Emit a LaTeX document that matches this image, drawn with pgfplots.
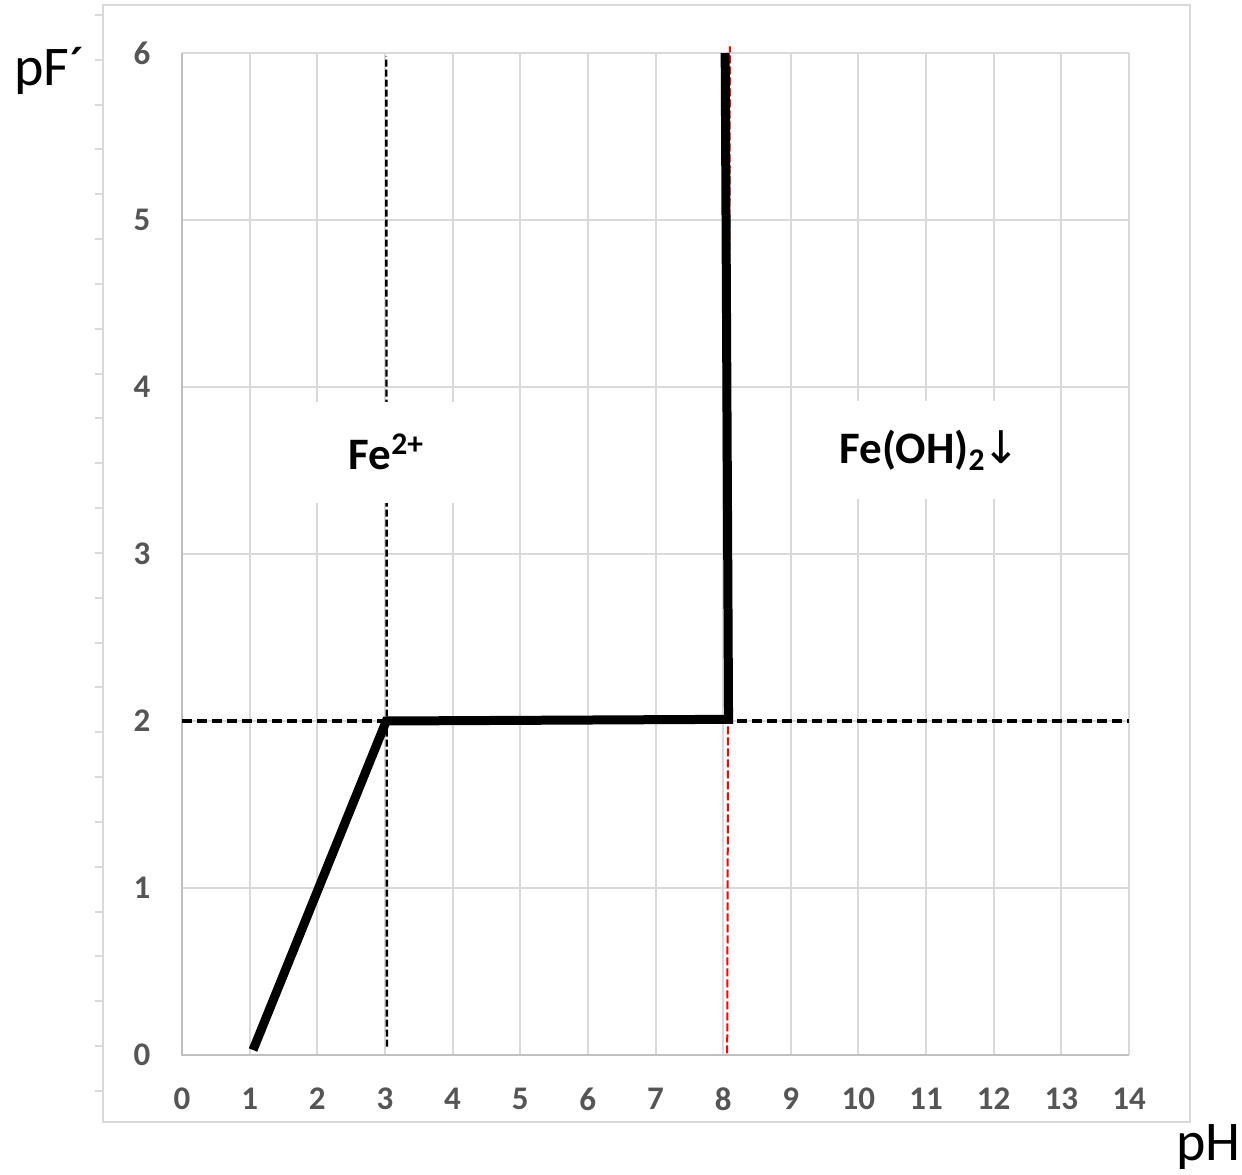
\documentclass[border=0pt]{standalone}
\usepackage{pgfplots}
\pgfplotsset{compat=1.18}
\usepackage{fontspec}
\setmainfont{Carlito}
\newfontfamily\dejavu{DejaVu Sans}
\definecolor{gridgray}{HTML}{D9D9D9}
\definecolor{axgray}{HTML}{BFBFBF}
\definecolor{ticktext}{HTML}{555555}
\begin{document}
\begin{tikzpicture}
\useasboundingbox (-91pt,-59.5pt) rectangle (530pt,527.5pt);
\begin{axis}[
  at={(0pt,0pt)}, anchor=south west,
  scale only axis, width=473.5pt, height=501pt,
  xmin=0, xmax=14, ymin=0, ymax=6,
  xtick={0,...,14}, ytick={0,...,6},
  grid=major, grid style={gridgray, line width=1pt},
  axis line style={draw=none},
  major tick length=0pt,
  tick style={draw=none},
  ticklabel style={font=\fontsize{16.5}{16.5}\selectfont\bfseries, text=ticktext},
  /pgf/number format/assume math mode=true,
  xticklabel style={anchor=center, yshift=-22pt},
  yticklabel style={anchor=center, xshift=-20pt},
  clip=false,
]
\draw[axgray, line width=1pt] (axis cs:0,6) -- (axis cs:0,0) -- (axis cs:14,0);
\addplot[black, line width=1.6pt, dash pattern=on 5pt off 2.5pt] coordinates {(0,2) (14,2)};
\addplot[black, line width=1.2pt, dash pattern=on 3.5pt off 1.5pt] coordinates {(3.03,0.05) (3.02,5.98)};
\addplot[red, line width=1pt, dash pattern=on 4pt off 1.5pt] coordinates {(8.06,0.01) (8.10,6.04)};
\addplot[black, line width=4.5pt] coordinates {(1.05,0.03) (3.02,2.0) (8.08,2.01) (8.03,6.0)};
\node[fill=white, minimum width=96pt, minimum height=50.5pt, inner sep=0pt, font=\fontsize{22.5}{22.5}\selectfont\bfseries] at (axis cs:3.02,3.61) {Fe\textsuperscript{2+}};
\node[fill=white, minimum width=110pt, minimum height=49pt, inner sep=0pt, font=\fontsize{22.5}{22.5}\selectfont\bfseries] at (axis cs:11.06,3.62) {Fe(OH)\textsubscript{2}\kern-1.5pt{\dejavu\mdseries ↓}};
\end{axis}
\draw[gridgray, line width=1.25pt] (-39.5pt,-33.5pt) rectangle (504pt,525pt);
\foreach \i in {0,...,24} \draw[gridgray, line width=1pt] (-43.5pt,{520pt-\i*22.415pt}) -- (-39.5pt,{520pt-\i*22.415pt});
\node[anchor=base west, font=\fontsize{28}{28}\selectfont, inner sep=0pt] at (-84pt,484.5pt) {pF´};
\node[anchor=base west, font=\fontsize{28}{28}\selectfont, inner sep=0pt] at (497pt,-52.5pt) {pH};
\end{tikzpicture}
\end{document}
